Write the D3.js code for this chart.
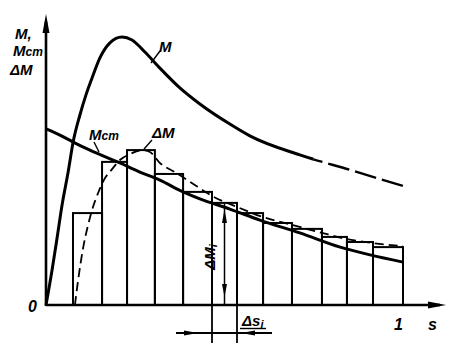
<!DOCTYPE html>
<html><head><meta charset="utf-8">
<script src="https://cdn.jsdelivr.net/npm/d3@7"></script>
<style>
body{margin:0;background:#fff}
svg{display:block}
text{font-family:"Liberation Sans",Arial,sans-serif;font-style:italic;font-weight:bold;fill:#000}
</style>
</head><body>
<svg id="c" width="462" height="347"></svg>
<script>
// ---- data (s in 0..1, values relative to the peak of M) ----
const binEdges = [0.0756, 0.157, 0.227, 0.305, 0.384, 0.465, 0.535, 0.608, 0.689, 0.773, 0.843, 0.916, 1.0];
const stepValues = [0.343, 0.534, 0.578, 0.489, 0.422, 0.381, 0.343, 0.306, 0.284, 0.254, 0.235, 0.216];
const mS   = [0, 0.017, 0.031, 0.045, 0.062, 0.076, 0.095, 0.112, 0.129, 0.151, 0.179, 0.213, 0.241, 0.277, 0.319, 0.375, 0.431, 0.515, 0.571, 0.711, 0.852, 1.0];
const mV   = [0, 0.131, 0.25, 0.373, 0.496, 0.608, 0.709, 0.784, 0.847, 0.922, 0.978, 1.0, 0.989, 0.944, 0.884, 0.810, 0.750, 0.675, 0.631, 0.560, 0.504, 0.444];
const mstS = [0, 0.039, 0.076, 0.123, 0.207, 0.263, 0.319, 0.384, 0.431, 0.515, 0.599, 0.711, 0.824, 0.908, 1.0];
const mstV = [0.657, 0.634, 0.608, 0.578, 0.530, 0.496, 0.466, 0.422, 0.396, 0.358, 0.317, 0.269, 0.216, 0.187, 0.160];
const dmS  = [0.081, 0.090, 0.104, 0.118, 0.129, 0.146, 0.162, 0.185, 0.207, 0.235, 0.269, 0.291, 0.319, 0.361, 0.417, 0.465, 0.535, 0.608, 0.689, 0.773, 0.843, 0.916, 1.0];
const dmV  = [0, 0.093, 0.213, 0.299, 0.354, 0.418, 0.466, 0.507, 0.541, 0.563, 0.578, 0.571, 0.530, 0.496, 0.448, 0.407, 0.366, 0.328, 0.299, 0.269, 0.246, 0.231, 0.220];
const mDashFrom = 0.75;       // M drawn dashed beyond this s
const markedBin = 5;          // bin used for the ΔMi / Δsi dimensions
const tickLabels = ["0", "1"];
const axisNames = {s: "s"};

// ---- scales ----
const x = d3.scaleLinear().domain([0, 1]).range([46, 403]);
const y = d3.scaleLinear().domain([0, 1]).range([305, 37]);
const svg = d3.select("#c");
const zip = (a, b) => a.map((v, i) => [v, b[i]]);
const line = d3.line().x(d => x(d[0])).y(d => y(d[1])).curve(d3.curveMonotoneX);

// ---- bars ----
const bars = stepValues.map((v, i) => ({x0: binEdges[i], x1: binEdges[i + 1], v}));
svg.append("g").selectAll("rect").data(bars).join("rect")
  .attr("x", d => x(d.x0)).attr("y", d => y(d.v))
  .attr("width", d => x(d.x1) - x(d.x0)).attr("height", d => y(0) - y(d.v))
  .attr("fill", "none").attr("stroke", "#000").attr("stroke-width", 2);

// ---- axes ----
svg.append("line").attr("x1", x(0)).attr("x2", 440).attr("y1", y(0)).attr("y2", y(0))
  .attr("stroke", "#000").attr("stroke-width", 2.6);
svg.append("line").attr("x1", x(0)).attr("x2", x(0)).attr("y1", y(0) + 1).attr("y2", 22)
  .attr("stroke", "#000").attr("stroke-width", 2.6);
svg.append("path").attr("d", `M${x(0)},14 L${x(0) - 3.5},33 L${x(0) + 3.5},33 Z`);
svg.append("path").attr("d", `M446,${y(0)} L428,${y(0) - 3.5} L428,${y(0) + 3.5} Z`);

// ---- curves ----
const defs = svg.append("defs");
defs.append("clipPath").attr("id", "solidPart").append("rect")
  .attr("x", 0).attr("y", 0).attr("width", x(mDashFrom)).attr("height", 347);
defs.append("clipPath").attr("id", "dashPart").append("rect")
  .attr("x", x(mDashFrom)).attr("y", 0).attr("width", 462).attr("height", 347);

svg.append("path").attr("d", line(zip(dmS, dmV))).attr("fill", "none")
  .attr("stroke", "#000").attr("stroke-width", 1.8).attr("stroke-dasharray", "9,5");
svg.append("path").attr("d", line(zip(mstS, mstV))).attr("fill", "none")
  .attr("stroke", "#000").attr("stroke-width", 3);
svg.append("path").attr("d", line(zip(mS, mV))).attr("fill", "none")
  .attr("stroke", "#000").attr("stroke-width", 3).attr("clip-path", "url(#solidPart)");
svg.append("path").attr("d", line(zip(mS, mV))).attr("fill", "none")
  .attr("stroke", "#000").attr("stroke-width", 2.4).attr("stroke-dasharray", "22,6")
  .attr("clip-path", "url(#dashPart)");

// ---- dimension ΔMi (vertical) ----
const mb = bars[markedBin];
const xm = (x(mb.x0) + x(mb.x1)) / 2;
svg.append("line").attr("x1", xm).attr("x2", xm).attr("y1", y(mb.v) + 1).attr("y2", y(0))
  .attr("stroke", "#000").attr("stroke-width", 1.5);
svg.append("path").attr("d", `M${xm},${y(mb.v) + 6} L${xm - 2.5},${y(mb.v) + 20} L${xm + 2.5},${y(mb.v) + 20} Z`);
svg.append("path").attr("d", `M${xm},${y(0) - 8} L${xm - 2.5},${y(0) - 21} L${xm + 2.5},${y(0) - 21} Z`);
const dmi = svg.append("text").attr("transform", `translate(${xm - 10},257) rotate(-90)`)
  .attr("text-anchor", "middle").attr("font-size", 15);
dmi.append("tspan").text("ΔM");
dmi.append("tspan").attr("font-size", 11).attr("dy", 2).text("i");

// ---- dimension Δsi (horizontal) ----
const yd = 333;
[mb.x0, mb.x1].forEach(s => svg.append("line").attr("x1", x(s)).attr("x2", x(s))
  .attr("y1", y(0)).attr("y2", 343).attr("stroke", "#000").attr("stroke-width", 1.8));
svg.append("line").attr("x1", 176).attr("x2", 272).attr("y1", yd).attr("y2", yd)
  .attr("stroke", "#000").attr("stroke-width", 1.8);
svg.append("path").attr("d", `M${x(mb.x0) - 14},${yd} L${x(mb.x0) - 28},${yd - 2.5} L${x(mb.x0) - 28},${yd + 2.5} Z`);
svg.append("path").attr("d", `M${x(mb.x1) + 4},${yd} L${x(mb.x1) + 18},${yd - 2.5} L${x(mb.x1) + 18},${yd + 2.5} Z`);
const dsi = svg.append("text").attr("x", 242).attr("y", 326).attr("font-size", 15);
dsi.append("tspan").text("Δs");
dsi.append("tspan").attr("font-size", 11).attr("dy", 2).text("i");
svg.append("line").attr("x1", 240).attr("x2", 266).attr("y1", 328.5).attr("y2", 328.5)
  .attr("stroke", "#000").attr("stroke-width", 1.4);

// ---- labels ----
function lab(xp, yp, main, sub, size) {
  const t = svg.append("text").attr("x", xp).attr("y", yp).attr("font-size", size || 15);
  t.append("tspan").text(main);
  if (sub) t.append("tspan").attr("font-size", 12).text(sub);
  return t;
}
lab(15, 39, "M,");
lab(13, 56, "M", "ст");
lab(10, 75, "ΔM");
lab(159, 52, "M");
lab(89, 140, "M", "ст");
lab(152, 138, "ΔM");
svg.append("text").attr("x", x(0) - 18).attr("y", y(0) + 7).attr("font-size", 16).attr("font-weight", "normal").text(tickLabels[0]);
svg.append("text").attr("x", x(1) - 9).attr("y", 330).attr("font-size", 16).attr("font-weight", "normal").text(tickLabels[1]);
svg.append("text").attr("x", 428).attr("y", 330).attr("font-size", 16).attr("font-weight", "normal").text(axisNames.s);

// leaders
[[151, 63, 160, 51], [94, 142, 99, 152], [152, 140, 144, 149]].forEach(p =>
  svg.append("line").attr("x1", p[0]).attr("y1", p[1]).attr("x2", p[2]).attr("y2", p[3])
    .attr("stroke", "#000").attr("stroke-width", 1.4));
</script>
</body></html>
